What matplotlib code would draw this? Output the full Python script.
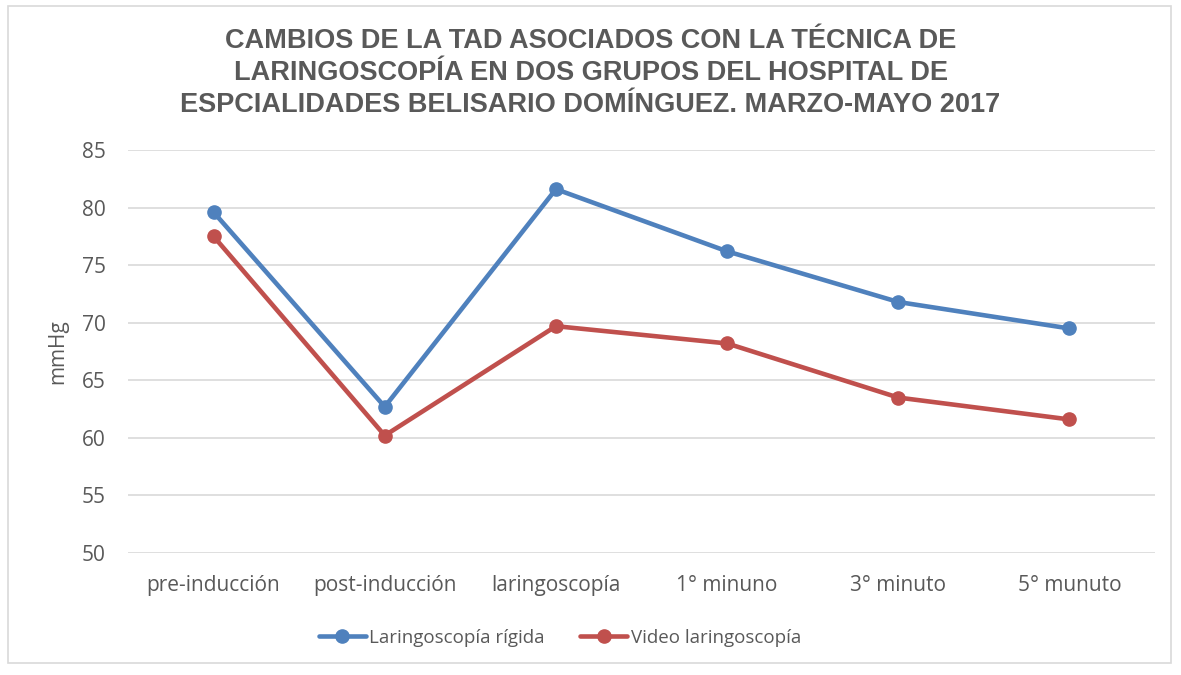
import matplotlib.pyplot as plt
from matplotlib.patches import Rectangle

categorias = ["pre-inducción", "post-inducción", "laringoscopía", "1° minuno", "3° minuto", "5° munuto"]
rigida = [79.6, 62.7, 81.6, 76.2, 71.8, 69.5]
video = [77.5, 60.2, 69.7, 68.2, 63.5, 61.6]

titulo = ("CAMBIOS DE LA TAD ASOCIADOS CON LA TÉCNICA DE\n"
          "LARINGOSCOPÍA EN DOS GRUPOS DEL HOSPITAL DE\n"
          "ESPCIALIDADES BELISARIO DOMÍNGUEZ. MARZO-MAYO 2017")

gris = "#595959"
plt.rcParams['font.family'] = ['Open Sans', 'DejaVu Sans']

fig = plt.figure(figsize=(11.81, 6.75), dpi=100)
ax = fig.add_axes([128 / 1181, 1 - 553 / 675, 1027 / 1181, 403 / 675])

x = range(len(categorias))
ax.plot(x, rigida, color="#4F81BD", lw=3.3, marker="o", ms=9.5, label="Laringoscopía rígida",
        solid_capstyle="round", zorder=3)
ax.plot(x, video, color="#C0504D", lw=3.3, marker="o", ms=9.5, label="Video laringoscopía",
        solid_capstyle="round", zorder=3)

ax.set_xlim(-0.5, len(categorias) - 0.5)
ax.set_ylim(50, 85)
ax.set_yticks(range(50, 86, 5))
ax.set_xticks(list(x))
ax.set_xticklabels(categorias)
ax.tick_params(axis="both", length=0, labelsize=15, labelcolor=gris)
ax.tick_params(axis="y", pad=16)
ax.tick_params(axis="x", pad=16)
ax.grid(axis="y", color="#D9D9D9", lw=1.2)
ax.set_axisbelow(True)
for s in ax.spines.values():
    s.set_visible(False)
ax.set_ylabel("mmHg", fontsize=15, color=gris, labelpad=10)

fig.text(0.5, 1 - 73 / 675, titulo, ha="center", va="center", fontsize=19.5,
         fontweight="bold", color=gris, family="Liberation Sans", linespacing=1.3)

leg = fig.legend(loc="center", bbox_to_anchor=(560 / 1181, 1 - 638 / 675), ncol=2,
                 frameon=False, fontsize=13.5, handlelength=2.5, columnspacing=1.9,
                 handletextpad=0.2)
for t in leg.get_texts():
    t.set_color(gris)

fig.patches.append(Rectangle((8 / 1181, 1 - 663 / 675), 1163 / 1181, 657 / 675,
                             transform=fig.transFigure, fill=False, ec="#D9D9D9", lw=1.2))

fig.savefig("out.png", dpi=100, facecolor="white")
